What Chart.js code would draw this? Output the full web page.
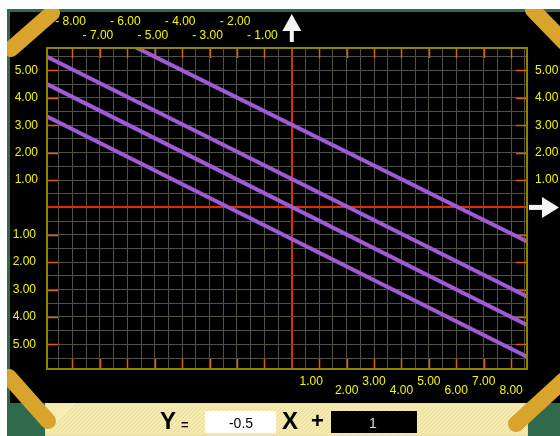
<!DOCTYPE html>
<html>
<head>
<meta charset="utf-8">
<script src="https://cdn.jsdelivr.net/npm/chart.js@4/dist/chart.umd.min.js"></script>
<style>
  body { margin: 0; background: #fff; }
  #wrap { width: 560px; height: 436px; }
</style>
</head>
<body>
<div id="wrap"><canvas id="graf"></canvas></div>
<script>
// lines (end points)
const lineAX = [-5.72, 8.58];
const lineAY = [5.86, -1.24];
const lineBX = [-8.93, 8.58];
const lineBY = [5.5, -3.25];
const lineCX = [-8.93, 8.58];
const lineCY = [4.5, -4.29];
const lineDX = [-8.93, 8.58];
const lineDY = [3.32, -5.45];

// axis ranges
const xRange = [-8.93, 8.58];
const yRange = [-5.9, 5.82];

// tick labels
const topRow1Vals = [-8, -6, -4, -2];
const topRow1Text = ['- 8.00', '- 6.00', '- 4.00', '- 2.00'];
const topRow2Vals = [-7, -5, -3, -1];
const topRow2Text = ['- 7.00', '- 5.00', '- 3.00', '- 1.00'];
const bottomVals = [1, 2, 3, 4, 5, 6, 7, 8];
const bottomText = ['1.00', '2.00', '3.00', '4.00', '5.00', '6.00', '7.00', '8.00'];
const leftVals = [5, 4, 3, 2, 1, -1, -2, -3, -4, -5];
const leftText = ['5.00', '4.00', '3.00', '2.00', '1.00', '1.00', '2.00', '3.00', '4.00', '5.00'];
const rightVals = [5, 4, 3, 2, 1];
const rightText = ['5.00', '4.00', '3.00', '2.00', '1.00'];
const slopeText = '-0.5';
const interceptText = '1';

function toPoints(xs, ys) {
    return xs.map((x, i) => ({ x: x, y: ys[i] }));
}

const labelFont = '12px "Liberation Sans", Arial, sans-serif';
const labelColor = '#f6f600';

const decoPlugin = {
    id: 'deco',
    beforeDraw(chart) {
        const ctx = chart.ctx;
        ctx.save();
        ctx.fillStyle = '#ffffff';
        ctx.fillRect(0, 0, 560, 436);
        ctx.fillStyle = '#2f6a4c';
        ctx.fillRect(7, 9, 553, 427);
        ctx.fillStyle = '#000000';
        ctx.fillRect(10, 12, 550, 391);
        // cream panel
        ctx.fillStyle = '#f4ecb2';
        ctx.fillRect(45, 403, 483, 33);
        ctx.strokeStyle = 'rgba(200,185,110,0.35)';
        ctx.lineWidth = 1;
        ctx.beginPath();
        ctx.rect(45, 403, 483, 33);
        ctx.clip();
        for (let i = 0; i < 530; i += 4) {
            ctx.moveTo(45 + i, 436);
            ctx.lineTo(45 + i + 33, 403);
        }
        ctx.stroke();
        ctx.restore();

        // gold corner bars
        ctx.save();
        ctx.beginPath();
        ctx.rect(7, 9, 553, 427);
        ctx.clip();
        ctx.strokeStyle = '#d8a42c';
        ctx.lineWidth = 16;
        ctx.lineCap = 'round';
        const bars = [[11, 49, 52, 13], [533, 10, 564, 42], [9, 377, 48, 421], [516, 424, 564, 380]];
        bars.forEach(b => {
            ctx.beginPath();
            ctx.moveTo(b[0], b[1]);
            ctx.lineTo(b[2], b[3]);
            ctx.stroke();
        });
        ctx.restore();
    },
    beforeDatasetsDraw(chart) {
        const ctx = chart.ctx;
        const a = chart.chartArea;
        const xs = chart.scales.x, ys = chart.scales.y;
        ctx.save();
        ctx.strokeStyle = '#dc6000';
        ctx.lineWidth = 1.5;
        ctx.beginPath();
        for (let v = -8; v <= 8; v++) {
            if (v === 0) continue;
            const px = Math.round(xs.getPixelForValue(v)) + 0.5;
            ctx.moveTo(px, a.top); ctx.lineTo(px, a.top + 10);
            ctx.moveTo(px, a.bottom); ctx.lineTo(px, a.bottom - 10);
        }
        for (let v = -5; v <= 5; v++) {
            if (v === 0) continue;
            const py = Math.round(ys.getPixelForValue(v)) + 0.5;
            ctx.moveTo(a.left, py); ctx.lineTo(a.left + 11, py);
            ctx.moveTo(a.right, py); ctx.lineTo(a.right - 11, py);
        }
        ctx.stroke();
        ctx.restore();
    },
    afterDraw(chart) {
        const ctx = chart.ctx;
        const a = chart.chartArea;
        const xs = chart.scales.x, ys = chart.scales.y;
        ctx.save();
        ctx.strokeStyle = '#8f8400';
        ctx.lineWidth = 2;
        ctx.strokeRect(a.left, a.top, a.right - a.left, a.bottom - a.top);

        ctx.font = labelFont;
        ctx.fillStyle = labelColor;
        ctx.textBaseline = 'middle';
        ctx.textAlign = 'center';
        topRow1Vals.forEach((v, i) => ctx.fillText(topRow1Text[i], xs.getPixelForValue(v) - 2, 22));
        topRow2Vals.forEach((v, i) => ctx.fillText(topRow2Text[i], xs.getPixelForValue(v) - 2, 36));
        bottomVals.forEach((v, i) => {
            const y = i % 2 === 0 ? 382 : 391;
            ctx.fillText(bottomText[i], xs.getPixelForValue(v) - (i === 0 ? 8 : 0), y);
        });
        ctx.textAlign = 'right';
        leftVals.forEach((v, i) => ctx.fillText(leftText[i], v > 0 ? 38 : 36, ys.getPixelForValue(v)));
        ctx.textAlign = 'left';
        rightVals.forEach((v, i) => ctx.fillText(rightText[i], 535, ys.getPixelForValue(v)));

        // arrows
        const ox = xs.getPixelForValue(0);
        const oy = ys.getPixelForValue(0);
        ctx.fillStyle = '#f4f4f4';
        ctx.beginPath();
        ctx.moveTo(ox, 14); ctx.lineTo(ox + 9.5, 31); ctx.lineTo(ox - 9.5, 31); ctx.closePath();
        ctx.fill();
        ctx.fillRect(ox - 2, 30, 4, 12);
        ctx.beginPath();
        ctx.moveTo(559, oy); ctx.lineTo(542, oy - 10.5); ctx.lineTo(542, oy + 10.5); ctx.closePath();
        ctx.fill();
        ctx.fillRect(529, oy - 2.5, 14, 5);

        // equation panel
        ctx.fillStyle = '#000';
        ctx.textBaseline = 'alphabetic';
        ctx.textAlign = 'left';
        ctx.font = 'bold 24px "Liberation Sans", Arial, sans-serif';
        ctx.fillText('Y', 160, 429);
        ctx.fillText('X', 282, 429);
        ctx.font = 'bold 13px "Liberation Sans", Arial, sans-serif';
        ctx.fillText('=', 181, 429);
        ctx.font = 'bold 22px "Liberation Sans", Arial, sans-serif';
        ctx.fillText('+', 311, 428);
        ctx.fillStyle = '#ffffff';
        ctx.fillRect(205, 411, 71, 22);
        ctx.fillStyle = '#000000';
        ctx.fillRect(331, 411, 86, 22);
        ctx.textAlign = 'center';
        ctx.font = '14px "Liberation Sans", Arial, sans-serif';
        ctx.fillStyle = '#000';
        ctx.fillText(slopeText, 241, 428);
        ctx.fillStyle = '#d8d8d8';
        ctx.fillText(interceptText, 373, 428);
        ctx.restore();
    }
};

const lineStyle = {
    borderColor: '#a05ad8',
    borderWidth: 4,
    pointRadius: 0,
    showLine: true,
    fill: false
};

new Chart(document.getElementById('graf').getContext('2d'), {
    type: 'scatter',
    data: {
        datasets: [
            Object.assign({ label: 'A', data: toPoints(lineAX, lineAY) }, lineStyle),
            Object.assign({ label: 'B', data: toPoints(lineBX, lineBY) }, lineStyle),
            Object.assign({ label: 'C', data: toPoints(lineCX, lineCY) }, lineStyle),
            Object.assign({ label: 'D', data: toPoints(lineDX, lineDY) }, lineStyle)
        ]
    },
    options: {
        responsive: true,
        maintainAspectRatio: false,
        animation: false,
        layout: { padding: { left: 47, top: 48, right: 33, bottom: 67 } },
        plugins: { legend: { display: false }, tooltip: { enabled: false } },
        scales: {
            x: {
                type: 'linear',
                min: xRange[0],
                max: xRange[1],
                afterFit: s => { s.height = 0; },
                ticks: { display: false, stepSize: 0.5, includeBounds: false, autoSkip: false, maxTicksLimit: 100 },
                border: { display: false },
                grid: {
                    drawTicks: false,
                    color: c => c.tick && c.tick.value === 0 ? '#e02a00' : '#525244',
                    lineWidth: c => c.tick && c.tick.value === 0 ? 2 : 1
                }
            },
            y: {
                type: 'linear',
                min: yRange[0],
                max: yRange[1],
                afterFit: s => { s.width = 0; },
                ticks: { display: false, stepSize: 0.5, includeBounds: false, autoSkip: false, maxTicksLimit: 100 },
                border: { display: false },
                grid: {
                    drawTicks: false,
                    color: c => c.tick && c.tick.value === 0 ? '#e02a00' : '#525244',
                    lineWidth: c => c.tick && c.tick.value === 0 ? 2 : 1
                }
            }
        }
    },
    plugins: [decoPlugin]
});
</script>
</body>
</html>
